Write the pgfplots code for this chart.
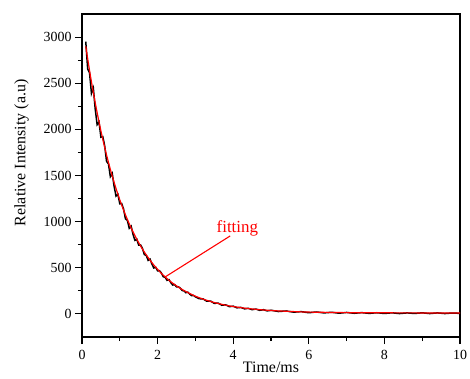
\documentclass[border=0pt]{standalone}
\usepackage{fontspec}
\setmainfont{Liberation Serif}
\usepackage{pgfplots}
\pgfplotsset{compat=1.18}
\begin{document}
\begin{tikzpicture}
\begin{axis}[
  scale only axis,
  width=378bp, height=323bp,
  xmin=0, xmax=10, ymin=-250, ymax=3250,
  xtick={0,2,4,6,8,10}, ytick={0,500,1000,1500,2000,2500,3000},
  minor x tick num=1, minor y tick num=1,
  tick align=outside, xtick pos=bottom, ytick pos=left,
  major tick length=7bp, minor tick length=4bp,
  axis line style={line width=1.2pt},
  every tick/.style={black, line width=1.1pt},
  /pgf/number format/assume math mode=true,
  /pgf/number format/1000 sep={},
  tick label style={font=\fontsize{14}{16}\selectfont},
  xticklabel style={yshift=-3bp},
  xlabel={Time/ms},
  xlabel style={font=\fontsize{16}{18}\selectfont, at={(axis description cs:0.5,-0.066)}, anchor=north},
  ylabel={Relative Intensity (a.u)},
  ylabel style={font=\fontsize{16}{18}\selectfont, at={(axis description cs:-0.16,0.57)}, anchor=center, rotate=0},
  clip=false,
]
\addplot[black, line width=1.5pt] coordinates {
(0.10,2950)(0.15,2655)(0.20,2611)(0.25,2389)(0.30,2447)(0.35,2219)(0.40,2051)(0.45,2081)
(0.50,1915)(0.55,1921)(0.60,1823)(0.65,1653)(0.70,1626)(0.75,1488)(0.80,1524)(0.85,1382)
(0.90,1277)(0.95,1296)(1.00,1193)(1.05,1197)(1.10,1136)(1.15,1030)(1.20,1014)(1.25,928)
(1.30,951)(1.35,862)(1.40,797)(1.45,809)(1.50,745)(1.55,747)(1.60,709)(1.65,643)
(1.70,634)(1.75,580)(1.80,594)(1.85,539)(1.90,498)(1.95,506)(2.00,466)(2.05,468)
(2.10,444)(2.15,403)(2.20,397)(2.25,364)(2.30,372)(2.35,339)(2.40,313)(2.45,318)
(2.50,293)(2.55,294)(2.60,280)(2.65,254)(2.70,250)(2.75,230)(2.80,236)(2.85,214)
(2.90,198)(2.95,201)(3.00,185)(3.1,165)(3.2,163)(3.3,138)(3.4,140)(3.5,114)(3.6,118)
(3.7,94)(3.8,99)(3.9,79)(4.0,84)(4.1,66)(4.2,71)(4.3,55)(4.4,61)(4.5,46)(4.6,53)
(4.7,39)(4.8,46)(4.9,33)(5.0,40)(5.2,26)(5.4,32)(5.6,19)(5.8,25)(6.0,13)(6.2,21)
(6.4,11)(6.6,18)(6.8,8)(7.0,16)(7.2,7)(7.4,14)(7.6,6)(7.8,13)(8.0,5)(8.2,12)
(8.4,4)(8.6,11)(8.8,5)(9.0,12)(9.2,4)(9.4,11)(9.6,4)(9.8,10)(10.0,6)
};
\addplot[red, line width=1.2pt, smooth] coordinates {
(0.1,2900)(0.2,2637)(0.3,2399)(0.4,2182)(0.5,1984)(0.6,1805)(0.7,1642)(0.8,1494)
(0.9,1359)(1.0,1236)(1.1,1125)(1.2,1024)(1.3,932)(1.4,848)(1.5,772)(1.6,702)
(1.7,640)(1.8,582)(1.9,530)(2.0,483)(2.1,440)(2.2,401)(2.3,365)(2.4,333)(2.5,304)
(2.6,277)(2.7,253)(2.8,231)(2.9,211)(3.0,192)(3.2,161)(3.4,135)(3.6,113)(3.8,95)
(4.0,80)(4.3,63)(4.6,50)(5.0,37)(5.5,27)(6.0,20)(7.0,14)(8.0,12)(9.0,11)(10.0,10)
};
\draw[red, line width=1.1pt] (axis cs:2.2,401) -- (axis cs:3.92,845);
\node[red, font=\fontsize{17}{19}\selectfont] at (axis cs:4.11,930) {fitting};
\end{axis}
\pgfresetboundingbox
\path[use as bounding box] ([shift={(-82bp,-42bp)}]current axis.south west) rectangle ([shift={(10bp,14bp)}]current axis.north east);
\end{tikzpicture}
\end{document}
